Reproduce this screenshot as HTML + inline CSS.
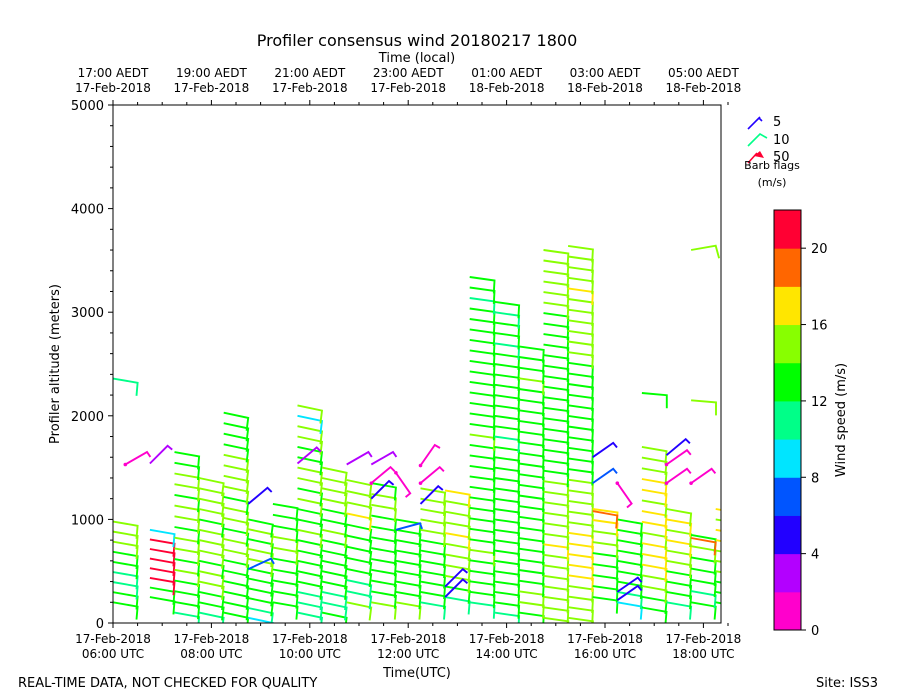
<!DOCTYPE html>
<html><head><meta charset="utf-8"><style>
body{margin:0;background:#fff;}
svg{display:block;font-family:"DejaVu Sans","Liberation Sans",sans-serif;}
</style></head><body>
<svg id="chart" width="900" height="700" viewBox="0 0 900 700" xmlns="http://www.w3.org/2000/svg">
<defs><clipPath id="plotclip"><rect x="113" y="105" width="608" height="518"/></clipPath></defs>
<text x="417" y="46" font-size="16" text-anchor="middle">Profiler consensus wind 20180217 1800</text>
<text x="417" y="62" font-size="13" text-anchor="middle">Time (local)</text>
<g id="barbs" clip-path="url(#plotclip)"></g>
<rect x="113" y="105" width="608" height="518" fill="none" stroke="#000" stroke-width="1"/>
<g id="axes"></g>
<text transform="translate(59,364) rotate(-90)" font-size="13" text-anchor="middle">Profiler altitude (meters)</text>
<text x="417" y="677" font-size="13" text-anchor="middle">Time(UTC)</text>
<text x="18" y="687" font-size="13">REAL-TIME DATA, NOT CHECKED FOR QUALITY</text>
<text x="816" y="687" font-size="13">Site: ISS3</text>
<g>
 <g><line x1="748" y1="129" x2="760" y2="117" stroke="#2200ff" stroke-width="1.6"/><line x1="759" y1="118" x2="762" y2="121" stroke="#2200ff" stroke-width="1.6"/><text x="773" y="126" font-size="13">5</text></g>
 <g><polyline points="748,146 760,134 767,138" fill="none" stroke="#00ff88" stroke-width="1.6"/><text x="773" y="144" font-size="13">10</text></g>
 <g><polyline points="748,163 757,153" fill="none" stroke="#ff0033" stroke-width="1.6"/><polygon points="754,156 760,151 764,158" fill="#ff0033"/><text x="773" y="161" font-size="13">50</text></g>
 <text x="772" y="169" font-size="11" text-anchor="middle">Barb flags</text>
 <text x="772" y="186" font-size="11" text-anchor="middle">(m/s)</text>
</g>
<g id="cbar"></g>
<text transform="translate(845,420) rotate(-90)" font-size="13" text-anchor="middle">Wind speed (m/s)</text>
</svg>
<script>
// ---- data ----
const colTimes   = [6.0, 6.75, 7.25, 7.75, 8.25, 8.75, 9.25, 9.75, 10.25, 10.75, 11.25, 11.75, 12.25, 12.75, 13.25, 13.75, 14.25, 14.75, 15.25, 15.75, 16.25, 16.75, 17.25, 17.75, 18.25];
const colBottoms = [200, 250, 100, 100, 100, 50, 200, 100, 100, 200, 200, 200, 200, 250, 200, 100, 100, 50, 50, 250, 200, 150, 200, 200, 200];
const colTops    = [980, 900, 1650, 1400, 2030, 1000, 1150, 2100, 1500, 1380, 1350, 1000, 1300, 1280, 3340, 3100, 2670, 3600, 3640, 1100, 1000, 1700, 1100, 850, 1100];
const colSpeeds = [
 [12,12,11,11,13,13,14,15,15],
 [13,13,20,21,21,21,21,9],
 [11,12,13,13,15,13,15,15,13,15,15,13,15,15,13,13],
 [11,12,13,15,15,13,15,15,15,13,15,15,15,15],
 [12,13,13,13,13,13,15,15,13,15,15,13,15,15,15,15,13,13,13,13],
 [9,10,13,13,13,13,15,15,13,15,13],
 [13,13,13,13,13,15,15,13,13,13],
 [11,11,10,13,13,13,13,13,15,13,13,15,13,15,15,13,13,15,15,9,15],
 [13,11,10,13,13,13,13,13,15,13,13,15,15,15,15],
 [15,11,11,13,13,13,13,13,17,15,15,15],
 [15,13,13,13,13,13,13,13,13,15,15,13],
 [15,13,13,13,13,13,13,13,13],
 [11,13,13,13,13,13,13,15,15,15,15,15],
 [10,13,15,15,15,15,17,15,15,15,17],
 [11,13,13,13,13,15,13,13,13,13,13,13,13,13,13,13,15,13,13,13,13,13,13,13,13,13,13,13,13,11,13,13],
 [11,13,13,13,13,13,13,13,13,13,13,13,13,13,13,13,13,11,13,13,13,13,13,13,13,13,11,13,13,11,13],
 [13,15,15,13,13,13,13,13,13,13,13,13,13,13,13,13,13,13,13,13,13,13,15,13,13,13],
 [15,15,15,15,15,15,15,17,15,15,15,15,15,15,13,13,13,13,13,13,13,13,13,13,13,13,13,13,13,13,15,15,15,15,15,15],
 [15,15,15,15,17,17,17,17,17,15,15,15,15,15,13,13,13,13,13,13,13,13,13,13,13,15,15,15,15,15,15,17,15,15,15,15],
 [12,13,13,13,13,15,15,17,17],
 [9,11,13,13,13,13,13,12,13],
 [13,13,15,15,17,17,17,15,17,17,15,17,17,15,15,15],
 [11,13,13,13,15,15,17,15,17,15],
 [13,11,13,13,13,15,13],
 [13,13,13,15,15,15,17,17,15,17]
];
const colDirs = [10,10,10,12,12,12,10,12,12,12,10,10,10,10,8,8,8,8,8,8,10,10,10,10,10];
// sparse individual barbs: time, altitude, speed, screen angle
const extraTimes  = [6.0, 6.0, 6.25, 6.75, 8.75, 8.75, 9.75, 10.75, 11.25, 11.25, 11.75, 12.25, 12.25, 11.25, 12.25, 11.75, 12.75, 12.75, 15.75, 15.75, 16.25, 16.25, 16.25, 17.25, 17.25, 17.25, 17.75, 6.0, 16.75, 17.75, 17.75, 15.75, 17.75];
const extraAlts   = [1430, 1300, 1530, 1540, 1150, 520, 1540, 1530, 1530, 1350, 1450, 1350, 1520, 1200, 1150, 900, 250, 350, 1600, 1350, 1350, 220, 300, 1350, 1530, 1620, 1350, 2360, 2220, 2150, 3600, 1080, 820];
const extraSpeeds = [5, 5, 1, 3, 5, 7, 3, 3, 3, 1, 1, 1, 1, 5, 5, 7, 5, 5, 5, 7, 1, 4, 4, 1, 1, 5, 1, 10, 13, 15, 15, 19, 19];
const extraDirs   = [160, 160, -30, -45, -40, -25, -40, -30, -30, -40, 55, -40, -55, -45, -45, -15, -45, -45, -35, -35, 55, -35, -35, -35, -35, -40, -35, 10, 5, 5, -10, 10, 10];
const cbarTicks = [0, 4, 8, 12, 16, 20];
const yTicks = [0, 1000, 2000, 3000, 4000, 5000];
const xTickHours = [6, 8, 10, 12, 14, 16, 18];
const bottomLabels = ["06:00 UTC", "08:00 UTC", "10:00 UTC", "12:00 UTC", "14:00 UTC", "16:00 UTC", "18:00 UTC"];
const topLabels = ["17:00 AEDT", "19:00 AEDT", "21:00 AEDT", "23:00 AEDT", "01:00 AEDT", "03:00 AEDT", "05:00 AEDT"];
const topDates = ["17-Feb-2018", "17-Feb-2018", "17-Feb-2018", "17-Feb-2018", "18-Feb-2018", "18-Feb-2018", "18-Feb-2018"];
const colors = ["#ff00cc","#b300ff","#2200ff","#0055ff","#00e5ff","#00ff88","#00ff00","#88ff00","#ffe600","#ff6600","#ff0033"];

// ---- scales ----
const NS = "http://www.w3.org/2000/svg";
const xs = h => 113 + (h - 6) * 49.2;
const ys = a => 623 - a * 0.1036;
const color = s => colors[Math.max(0, Math.min(10, Math.floor(s / 2)))];
function mk(tag, attrs, parent) { const e = document.createElementNS(NS, tag); for (const k in attrs) e.setAttribute(k, attrs[k]); parent.appendChild(e); return e; }

const barbs = document.getElementById('barbs');
function drawBarb(t, alt, spd, ang, name) {
  const x0 = xs(t), y0 = ys(alt), r = ang * Math.PI / 180, L = 25;
  const x1 = x0 + L * Math.cos(r), y1 = y0 + L * Math.sin(r);
  const tr = (ang + 85) * Math.PI / 180, tl = spd >= 7.5 ? 13 : 6;
  const x2 = x1 + tl * Math.cos(tr), y2 = y1 + tl * Math.sin(tr);
  const c = color(spd);
  const p = mk('polyline', {points: `${x0.toFixed(1)},${y0.toFixed(1)} ${x1.toFixed(1)},${y1.toFixed(1)} ${x2.toFixed(1)},${y2.toFixed(1)}`, fill: 'none', stroke: c, 'stroke-width': 1.9}, barbs);
  
  
  if (spd < 2.5) mk('circle', {cx: x0, cy: y0, r: 1.8, fill: c}, barbs);
}
colTimes.forEach((t, i) => {
  const sp = colSpeeds[i], n = sp.length;
  sp.forEach((s, j) => {
    const alt = colBottoms[i] + (n > 1 ? (colTops[i] - colBottoms[i]) * j / (n - 1) : 0);
    drawBarb(t, alt, s, colDirs[i], 'wind-barb');
  });
});
extraTimes.forEach((t, i) => drawBarb(t, extraAlts[i], extraSpeeds[i], extraDirs[i], 'wind-barb-sparse'));

// ---- axes ----
const ax = document.getElementById('axes');
for (let a = 0; a <= 5000; a += 200) {
  const maj = a % 1000 === 0;
  mk('line', {x1: 113, x2: 113 - (maj ? 5 : 3), y1: ys(a), y2: ys(a), stroke: '#000'}, ax);
}
yTicks.forEach(a => {
  const t = mk('text', {x: 104, y: ys(a) + 5, 'font-size': 13, 'text-anchor': 'end'}, ax);
  t.textContent = a;
  
  
});
for (let h = 6; h <= 18.5; h += 0.5) {
  const maj = h % 2 === 0;
  mk('line', {x1: xs(h), x2: xs(h), y1: 623, y2: 623 + (maj ? 5 : 3), stroke: '#000'}, ax);
  mk('line', {x1: xs(h), x2: xs(h), y1: 105, y2: 105 - (maj ? 5 : 3), stroke: '#000'}, ax);
}
xTickHours.forEach((h, i) => {
  const x = xs(h);
  const a = mk('text', {x: x, y: 643, 'font-size': 12, 'text-anchor': 'middle'}, ax); a.textContent = '17-Feb-2018';
   
  const b = mk('text', {x: x, y: 658, 'font-size': 12, 'text-anchor': 'middle'}, ax); b.textContent = bottomLabels[i];
   
  const c = mk('text', {x: x, y: 77, 'font-size': 12, 'text-anchor': 'middle'}, ax); c.textContent = topLabels[i];
   
  const d = mk('text', {x: x, y: 92, 'font-size': 12, 'text-anchor': 'middle'}, ax); d.textContent = topDates[i];
   
});

// ---- colorbar ----
const cb = document.getElementById('cbar');
const cy = v => 630 - v * (420 / 22);
colors.forEach((c, i) => {
  const r = mk('rect', {x: 774, y: cy(i * 2 + 2), width: 27, height: cy(i * 2) - cy(i * 2 + 2) + 0.5, fill: c}, cb);
  
  
});
mk('rect', {x: 774, y: 210, width: 27, height: 420, fill: 'none', stroke: '#000'}, cb);
cbarTicks.forEach(v => {
  mk('line', {x1: 801, x2: 806, y1: cy(v), y2: cy(v), stroke: '#000'}, cb);
  const t = mk('text', {x: 811, y: cy(v) + 5, 'font-size': 13}, cb);
  t.textContent = v;
  
  
});
</script>
</body></html>
